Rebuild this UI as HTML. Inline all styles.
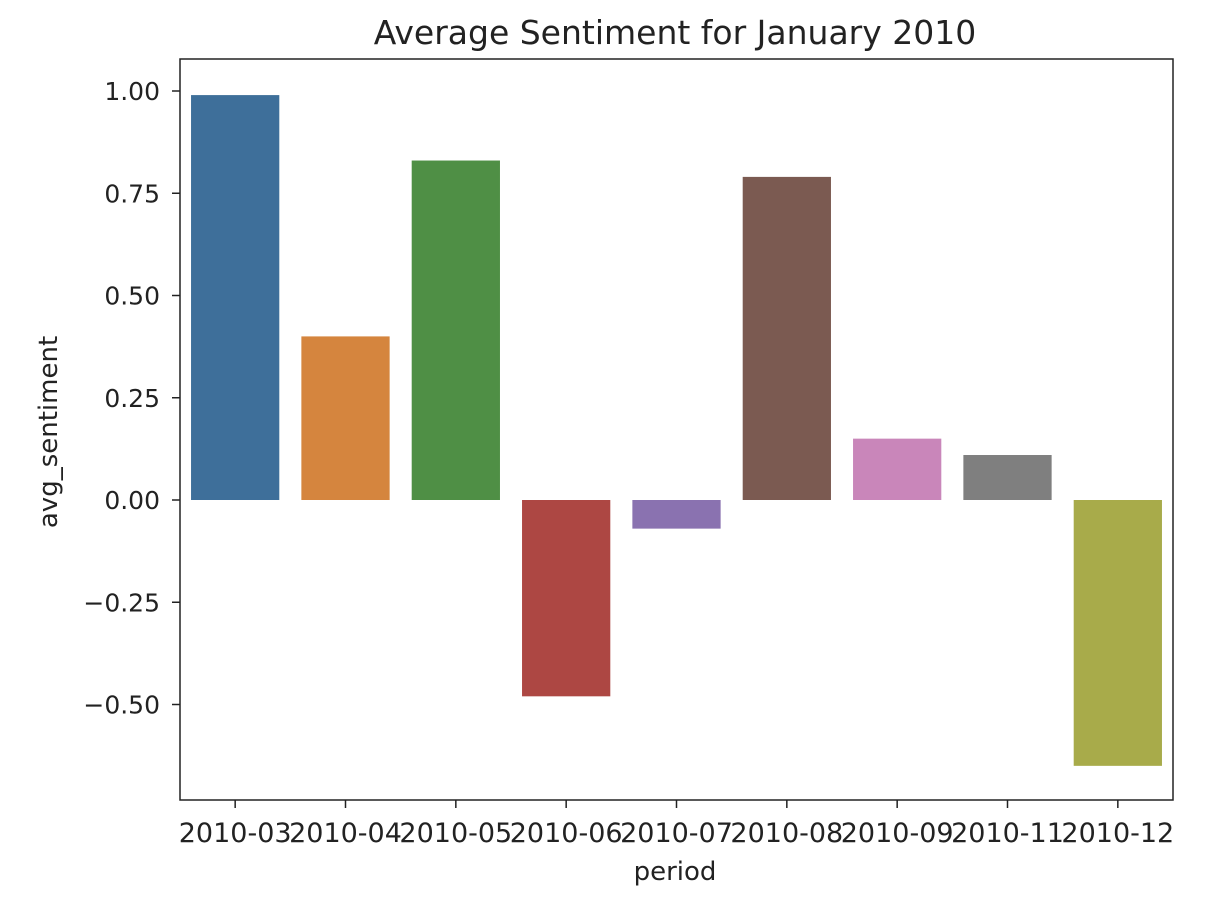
<!DOCTYPE html>
<html><head><meta charset="utf-8"><style>
html,body{margin:0;padding:0;background:#fff;}
svg{display:block;font-family:"DejaVu Sans","Liberation Sans",sans-serif;}
</style></head><body>
<svg id="chart" width="1226" height="924" viewBox="0 0 1226 924">
<text x="675" y="44" font-size="33" text-anchor="middle" fill="#222">Average Sentiment for January 2010</text>
<g id="bars"></g>
<g id="yaxis"></g>
<g id="xaxis"></g>
<rect x="180" y="59" width="993" height="741" fill="none" stroke="#222" stroke-width="1.5"/>
<text x="675" y="880" font-size="26" text-anchor="middle" fill="#222">period</text>
<text transform="translate(57,432) rotate(-90)" font-size="26" text-anchor="middle" fill="#222">avg_sentiment</text>
</svg>
<script>
const categories=["2010-03","2010-04","2010-05","2010-06","2010-07","2010-08","2010-09","2010-11","2010-12"];
const values=[0.99,0.40,0.83,-0.48,-0.07,0.79,0.15,0.11,-0.65];
const yTicks=[-0.5,-0.25,0,0.25,0.5,0.75,1.0];
const yTickLabels=["\u22120.50","\u22120.25","0.00","0.25","0.50","0.75","1.00"];
const colors=["#3e6f9a","#d5853e","#4f8f45","#ad4743","#8a72b0","#7b5a51","#c986ba","#7f7f7f","#a8ab4a"];
const NS="http://www.w3.org/2000/svg";
const L=180,R=1173,T=59,B=800;
const y0=500,pxPer=409;
function y(v){return y0-v*pxPer;}
const step=(R-L)/categories.length;
function x(i){return L+step*(i+0.5);}
const bars=document.getElementById('bars'),ya=document.getElementById('yaxis'),xa=document.getElementById('xaxis');
values.forEach((v,i)=>{
  const r=document.createElementNS(NS,'rect');
  
  
  const w=step*0.8;
  r.setAttribute('x',x(i)-w/2);r.setAttribute('width',w);
  r.setAttribute('y',Math.min(y(v),y(0)));r.setAttribute('height',Math.abs(y(v)-y(0)));
  r.setAttribute('fill',colors[i%colors.length]);
  bars.appendChild(r);
});
yTicks.forEach((t,i)=>{
  const l=document.createElementNS(NS,'line');
  
  
  l.setAttribute('x1',L-8);l.setAttribute('x2',L);l.setAttribute('y1',y(t));l.setAttribute('y2',y(t));l.setAttribute('stroke','#222');l.setAttribute('stroke-width','1.5');
  ya.appendChild(l);
  const tx=document.createElementNS(NS,'text');
  
  
  tx.setAttribute('x',L-20);tx.setAttribute('y',y(t)+9);tx.setAttribute('text-anchor','end');tx.setAttribute('font-size','25');tx.setAttribute('fill','#222');
  tx.textContent=yTickLabels[i];ya.appendChild(tx);
});
categories.forEach((c,i)=>{
  const l=document.createElementNS(NS,'line');
  
  
  l.setAttribute('x1',x(i));l.setAttribute('x2',x(i));l.setAttribute('y1',B);l.setAttribute('y2',B+8);l.setAttribute('stroke','#222');l.setAttribute('stroke-width','1.5');
  xa.appendChild(l);
  const tx=document.createElementNS(NS,'text');
  
  
  tx.setAttribute('x',x(i));tx.setAttribute('y',B+42);tx.setAttribute('text-anchor','middle');tx.setAttribute('font-size','27');tx.setAttribute('fill','#222');
  tx.textContent=c;xa.appendChild(tx);
});
</script>
</body></html>
